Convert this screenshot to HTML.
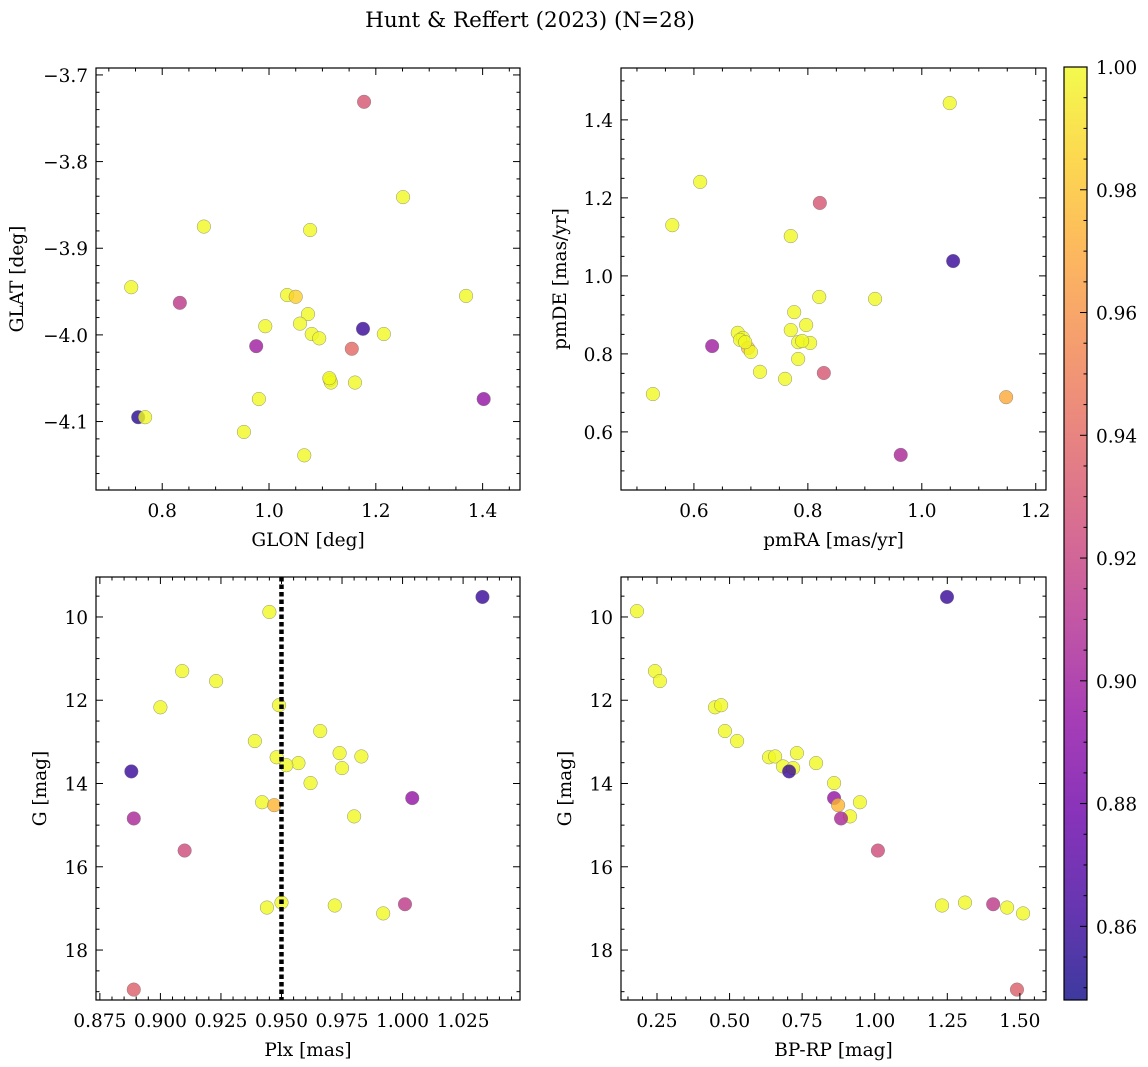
<!DOCTYPE html>
<html><head><meta charset="utf-8"><style>
html,body{margin:0;padding:0;background:#fff;}
svg{display:block;font-family:"DejaVu Serif","Liberation Serif",serif;}
</style></head><body>
<svg id="fig" width="1148" height="1067" viewBox="0 0 1148 1067" xmlns="http://www.w3.org/2000/svg">
<text x="530" y="27" font-size="21.5" text-anchor="middle">Hunt &amp; Reffert (2023) (N=28)</text>
</svg>
<script>
// ---- data ----
const tlGlon = [1.178,1.251,0.878,1.077,0.742,0.833,1.369,1.034,1.050,1.073,0.993,1.058,1.176,1.080,1.094,1.215,0.976,1.155,1.114,1.116,1.161,0.981,1.402,0.755,0.768,0.953,1.066,1.113];
const tlGlat = [-3.731,-3.841,-3.875,-3.879,-3.945,-3.963,-3.955,-3.954,-3.956,-3.976,-3.990,-3.987,-3.993,-3.999,-4.004,-3.999,-4.013,-4.016,-4.052,-4.055,-4.055,-4.074,-4.074,-4.095,-4.095,-4.112,-4.139,-4.050];
const tlProb = [0.93,1,1,1,1,0.915,1,1,0.985,1,1,1,0.86,1,1,1,0.90,0.94,1,1,1,1,0.895,0.855,1,1,1,1];

const trPmra = [1.049,0.611,0.562,0.821,0.770,1.055,0.820,0.918,0.776,0.797,0.677,0.686,0.770,0.783,0.804,0.681,0.695,0.700,0.783,0.632,0.716,0.828,0.760,0.528,1.148,0.963,0.690,0.790];
const trPmde = [1.443,1.241,1.130,1.187,1.102,1.038,0.946,0.941,0.907,0.874,0.854,0.841,0.861,0.830,0.828,0.836,0.815,0.805,0.787,0.820,0.754,0.751,0.736,0.697,0.689,0.541,0.830,0.833];
const trProb = [1,1,1,0.93,1,0.86,1,1,1,1,1,1,1,1,1,1,0.98,1,1,0.90,1,0.93,1,1,0.97,0.905,1,1];

const blPlx = [1.033,0.945,0.909,0.923,0.900,0.949,0.966,0.939,0.948,0.957,0.952,0.974,0.983,0.975,0.888,0.962,1.004,0.942,0.947,0.980,0.889,0.910,1.001,0.972,0.950,0.944,0.992,0.889];
const blG = [9.52,9.88,11.30,11.54,12.17,12.12,12.74,12.98,13.37,13.51,13.56,13.27,13.35,13.63,13.71,13.99,14.35,14.45,14.52,14.79,14.84,15.61,16.90,16.93,16.86,16.98,17.12,18.95];
const blProb = [0.86,1,1,1,1,1,1,1,1,1,1,1,1,1,0.86,1,0.895,1,0.975,1,0.905,0.925,0.915,1,1,1,1,0.935];

const brColor = [1.249,0.181,0.243,0.260,0.450,0.471,0.484,0.526,0.636,0.657,0.684,0.719,0.732,0.705,0.798,0.860,0.860,0.949,0.874,0.915,0.884,1.011,1.232,1.311,1.408,1.456,1.511,1.490];
const brG = [9.52,9.86,11.30,11.54,12.17,12.12,12.74,12.98,13.37,13.35,13.59,13.63,13.27,13.71,13.51,13.99,14.35,14.45,14.52,14.79,14.84,15.61,16.93,16.86,16.90,16.98,17.12,18.95];
const brProb = [0.86,1,1,1,1,1,1,1,1,1,1,1,1,0.86,1,1,0.895,1,0.975,1,0.905,0.925,1,1,0.915,1,1,0.935];

const tlXTicks = ["0.8","1.0","1.2","1.4"];
const tlYTicks = ["−3.7","−3.8","−3.9","−4.0","−4.1"];
const trXTicks = ["0.6","0.8","1.0","1.2"];
const trYTicks = ["0.6","0.8","1.0","1.2","1.4"];
const blXTicks = ["0.875","0.900","0.925","0.950","0.975","1.000","1.025"];
const gTicks = ["10","12","14","16","18"];
const brXTicks = ["0.25","0.50","0.75","1.00","1.25","1.50"];
const cbTicks = ["0.86","0.88","0.90","0.92","0.94","0.96","0.98","1.00"];
const plxCut = [0.950];

const VMIN = 0.848, VMAX = 1.0;
const FS = 18.5;
const NS = "http://www.w3.org/2000/svg";
const fig = document.getElementById('fig');

const plasma = ["#0d0887","#41049d","#6a00a8","#8f0da4","#b12a90","#cc4778","#e16462","#f2844b","#fca636","#fcce25","#f0f921"];
function hex2rgb(h){return [parseInt(h.substr(1,2),16),parseInt(h.substr(3,2),16),parseInt(h.substr(5,2),16)];}
function cmap(p){
  let t=(p-VMIN)/(VMAX-VMIN); t=Math.max(0,Math.min(1,t));
  const f=t*10, i=Math.min(9,Math.floor(f)), r=f-i;
  const a=hex2rgb(plasma[i]), b=hex2rgb(plasma[i+1]);
  return 'rgb('+a.map((v,k)=>Math.round(v+(b[k]-v)*r)).join(',')+')';
}
function mk(tag, attrs, parent){
  const e=document.createElementNS(NS,tag);
  for(const k in attrs) e.setAttribute(k,attrs[k]);
  (parent||fig).appendChild(e); return e;
}
function val(s){return parseFloat(s.replace('−','-'));}

function panel(o){
  const g=mk('g',{});
  
  
  const L=o.x0,R=o.x1,T=o.y0,B=o.y1;
  const sx=v=>L+(v-o.xmin)/(o.xmax-o.xmin)*(R-L);
  const sy=v=>T+(v-o.ytop)/(o.ybot-o.ytop)*(B-T);
  for(let i=0;i<o.xs.length;i++){
    const c=mk('circle',{cx:sx(o.xs[i]),cy:sy(o.ys[i]),r:6.8,fill:cmap(o.ps[i]),'fill-opacity':0.8,stroke:'#777','stroke-width':0.5,'stroke-opacity':0.8},g);
    
    
  }
  if(o.vline){
    const l=mk('line',{x1:sx(o.vline[0]),x2:sx(o.vline[0]),y1:T,y2:B,stroke:'#000','stroke-width':4.5,'stroke-dasharray':'4.5 3'},g);
    
    
  }
  const fr=mk('rect',{x:L,y:T,width:R-L,height:B-T,fill:'none',stroke:'#000','stroke-width':1.2},g);
  
  
  const xt=o.xt.map(val), dx=xt[1]-xt[0], mx=dx/o.xminor;
  for(let v=Math.ceil(o.xmin/mx)*mx; v<=o.xmax+1e-9; v+=mx){
    const X=sx(v); const major=Math.abs(v/dx-Math.round(v/dx))<1e-6; const len=major?7:3.5;
    mk('line',{x1:X,x2:X,y1:B,y2:B-len,stroke:'#000','stroke-width':1},g);
    mk('line',{x1:X,x2:X,y1:T,y2:T+len,stroke:'#000','stroke-width':1},g);
  }
  o.xt.forEach(s=>{
    const t=mk('text',{x:sx(val(s)),y:B+27,'font-size':FS,'text-anchor':'middle'},g); t.textContent=s;
    
    
  });
  const yt=o.yt.map(val), dy=Math.abs(yt[1]-yt[0]), my=dy/o.yminor;
  const ylo=Math.min(o.ytop,o.ybot), yhi=Math.max(o.ytop,o.ybot);
  for(let v=Math.ceil(ylo/my)*my; v<=yhi+1e-9; v+=my){
    const Y=sy(v); const major=Math.abs(v/dy-Math.round(v/dy))<1e-6; const len=major?7:3.5;
    mk('line',{x1:L,x2:L+len,y1:Y,y2:Y,stroke:'#000','stroke-width':1},g);
    mk('line',{x1:R,x2:R-len,y1:Y,y2:Y,stroke:'#000','stroke-width':1},g);
  }
  o.yt.forEach(s=>{
    const t=mk('text',{x:L-8,y:sy(val(s))+7,'font-size':FS,'text-anchor':'end'},g); t.textContent=s;
    
    
  });
  const xl=mk('text',{x:(L+R)/2,y:B+56,'font-size':FS,'text-anchor':'middle'},g); xl.textContent=o.xlabel;
  
  
  const yc=(T+B)/2;
  const yl=mk('text',{x:o.ylx,y:yc,'font-size':FS,'text-anchor':'middle',transform:'rotate(-90 '+o.ylx+' '+yc+')'},g); yl.textContent=o.ylabel;
  
  
}

panel({name:'glon-glat-panel',x0:96,x1:520,y0:68,y1:490,xmin:0.676,xmax:1.470,ytop:-3.692,ybot:-4.179,xs:tlGlon,ys:tlGlat,ps:tlProb,xt:tlXTicks,yt:tlYTicks,xminor:4,yminor:5,xlabel:'GLON [deg]',ylabel:'GLAT [deg]',ylx:23});
panel({name:'pm-panel',x0:621,x1:1046,y0:68,y1:490,xmin:0.472,xmax:1.218,ytop:1.533,ybot:0.451,xs:trPmra,ys:trPmde,ps:trProb,xt:trXTicks,yt:trYTicks,xminor:4,yminor:4,xlabel:'pmRA [mas/yr]',ylabel:'pmDE [mas/yr]',ylx:566});
panel({name:'plx-g-panel',x0:96,x1:520,y0:577,y1:1000,xmin:0.8734,xmax:1.0485,ytop:9.04,ybot:19.2,xs:blPlx,ys:blG,ps:blProb,xt:blXTicks,yt:gTicks,xminor:5,yminor:4,xlabel:'Plx [mas]',ylabel:'G [mag]',ylx:46,vline:plxCut});
panel({name:'cmd-panel',x0:621,x1:1046,y0:577,y1:1000,xmin:0.126,xmax:1.59,ytop:9.04,ybot:19.2,xs:brColor,ys:brG,ps:brProb,xt:brXTicks,yt:gTicks,xminor:5,yminor:4,xlabel:'BP-RP [mag]',ylabel:'G [mag]',ylx:571});

(function(){
  const L=1064,R=1087,T=67,B=1000;
  const cg=mk('g',{});
  
  
  const defs=mk('defs',{},cg);
  const lg=mk('linearGradient',{id:'cbg',x1:0,y1:1,x2:0,y2:0},defs);
  for(let i=0;i<=20;i++){
    const p=VMIN+(VMAX-VMIN)*i/20;
    mk('stop',{offset:(i/20),'stop-color':cmap(p),'stop-opacity':0.8},lg);
  }
  mk('rect',{x:L,y:T,width:R-L,height:B-T,fill:'url(#cbg)'},cg);
  mk('rect',{x:L,y:T,width:R-L,height:B-T,fill:'none',stroke:'#000','stroke-width':1.2},cg);
  const sy=v=>B-(v-VMIN)/(VMAX-VMIN)*(B-T);
  for(let k=Math.ceil(VMIN/0.005);k*0.005<=VMAX+1e-9;k++){
    const v=k*0.005, major=(k%4===0), len=major?7:3.5, Y=sy(v);
    mk('line',{x1:R,x2:R-len,y1:Y,y2:Y,stroke:'#000','stroke-width':1},cg);
  }
  cbTicks.forEach(s=>{
    const t=mk('text',{x:R+9,y:sy(val(s))+7,'font-size':FS},cg); t.textContent=s;
    
    
  });
})();
</script>
</body></html>
